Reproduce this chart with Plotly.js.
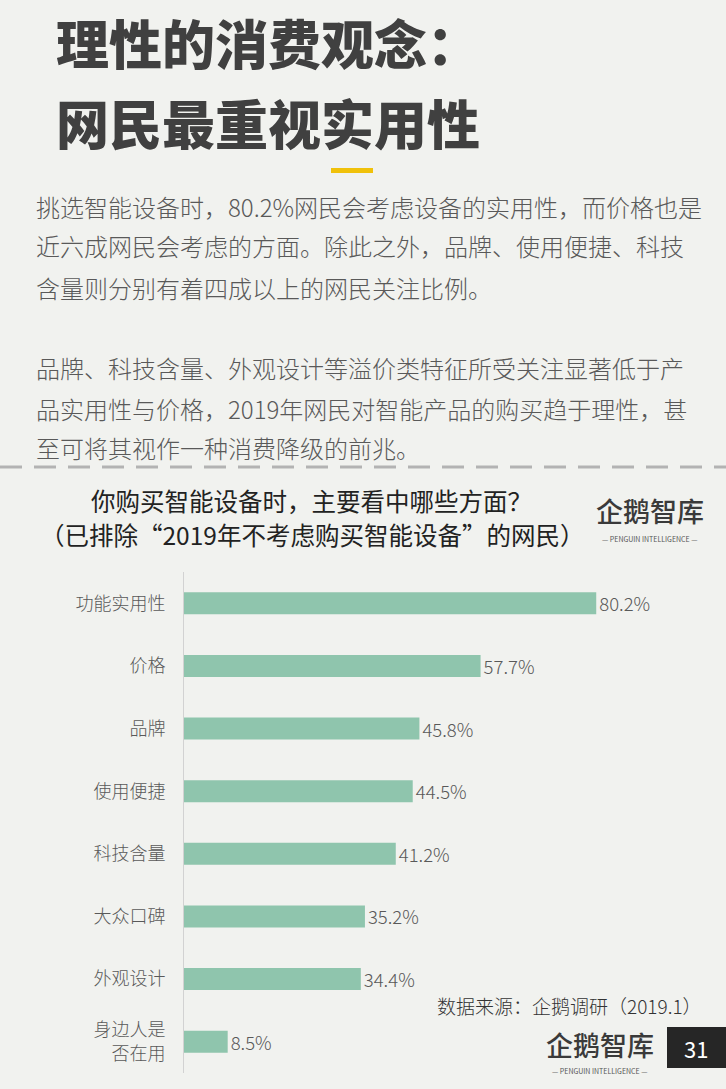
<!DOCTYPE html>
<html>
<head>
<meta charset="utf-8">
<script src="https://cdn.plot.ly/plotly-3.0.1.min.js"></script>
<style>
  html, body { margin: 0; padding: 0; background: #f1f2ef; }
  #plotDiv { width: 726px; height: 1089px; }
</style>
</head>
<body>
<div id="plotDiv"></div>
<script>
"use strict";

// Chart data
const categories = ['功能实用性', '价格', '品牌', '使用便捷', '科技含量', '大众口碑', '外观设计', '身边人是<br>否在用'];
const shares = [80.2, 57.7, 45.8, 44.5, 41.2, 35.2, 34.4, 8.5];

// Page texts
const headLines = ['理性的消费观念：', '网民最重视实用性'];
const bodyLines = [
    '挑选智能设备时，80.2%网民会考虑设备的实用性，而价格也是',
    '近六成网民会考虑的方面。除此之外，品牌、使用便捷、科技',
    '含量则分别有着四成以上的网民关注比例。',
    '品牌、科技含量、外观设计等溢价类特征所受关注显著低于产',
    '品实用性与价格，2019年网民对智能产品的购买趋于理性，甚',
    '至可将其视作一种消费降级的前兆。'
];
const chartTitle = ['你购买智能设备时，主要看中哪些方面？', '（已排除“2019年不考虑购买智能设备”的网民）'];
const sourceText = '数据来源：企鹅调研（2019.1）';
const pageNo = '31';

const FONT = '"Noto Sans CJK SC", "Noto Sans", sans-serif';
const W = 726, H = 1089;
const ML = 184, MR = 28, MT = 572, MB = 16;
const plotW = W - ML - MR, plotH = H - MT - MB;

// pixel -> paper coordinates
const ax = px => (px - ML) / plotW;
const ay = py => (H - MB - py) / plotH;

function note(text, x, y, size, opts = {}) {
    return Object.assign({
        text: text, xref: 'paper', yref: 'paper', x: ax(x), y: ay(y),
        xanchor: 'left', yanchor: 'middle', showarrow: false, borderpad: 0,
        font: { family: FONT, size: size, color: opts.color || '#595959', weight: opts.weight || 300 }
    }, opts.extra || {});
}

const annotations = [];
annotations.push(note(headLines[0], 55, 42, 53, { color: '#404040', weight: 900 }));
annotations.push(note(headLines[1], 55, 122, 53, { color: '#404040', weight: 900 }));

const bodyY = [206, 246, 287, 368, 408, 448];
bodyLines.forEach((t, i) => annotations.push(note(t, 35, bodyY[i], 24)));

// chart title, two lines
annotations.push(note(chartTitle[0], 311, 500, 24.5, { color: '#222222', weight: 400, extra: { xanchor: 'center' } }));
annotations.push(note(chartTitle[1], 312, 534, 24.5, { color: '#222222', weight: 400, extra: { xanchor: 'center' } }));

// logos (text only)
annotations.push(note('企鹅智库', 650, 511, 27, { color: '#3a3a3a', weight: 500, extra: { xanchor: 'center' } }));
annotations.push(note('— PENGUIN INTELLIGENCE —', 650, 539, 7, { color: '#555555', weight: 400, extra: { xanchor: 'center' } }));
annotations.push(note('企鹅智库', 600, 1044, 27, { color: '#3a3a3a', weight: 500, extra: { xanchor: 'center' } }));
annotations.push(note('— PENGUIN INTELLIGENCE —', 600, 1071, 7, { color: '#555555', weight: 400, extra: { xanchor: 'center' } }));

annotations.push(note(sourceText, 436, 1005, 19, { color: '#333333', weight: 300 }));
annotations.push(note(pageNo, 696, 1048, 22, { color: '#ffffff', weight: 400, extra: { xanchor: 'center' } }));

const shapes = [
    { type: 'rect', xref: 'paper', yref: 'paper', x0: ax(331), x1: ax(373), y0: ay(168), y1: ay(173),
      fillcolor: '#f0c10a', line: { width: 0 } },
    { type: 'line', xref: 'paper', yref: 'paper', x0: ax(0), x1: ax(726), y0: ay(467), y1: ay(467),
      line: { color: '#b3b3b3', width: 3, dash: '22px,12px' } },
    { type: 'rect', xref: 'paper', yref: 'paper', x0: ax(667), x1: ax(726), y0: ay(1027), y1: ay(1068),
      fillcolor: '#262626', line: { width: 0 } }
];

const trace = {
    type: 'bar',
    orientation: 'h',
    y: categories,
    x: shares,
    width: 0.35,
    marker: { color: '#8fc5ad' },
    texttemplate: '%{x:.1f}%',
    textposition: 'outside',
    constraintext: 'none',
    cliponaxis: false,
    textfont: { family: FONT, size: 18.5, color: '#595959', weight: 300 },
    hoverinfo: 'skip'
};

const layout = {
    width: W, height: H,
    margin: { l: ML, r: MR, t: MT, b: MB },
    paper_bgcolor: '#f1f2ef',
    plot_bgcolor: '#f1f2ef',
    showlegend: false,
    xaxis: { range: [0, 100], visible: false, fixedrange: true },
    yaxis: {
        autorange: 'reversed',
        showline: true, linecolor: '#d2d2d2', linewidth: 1,
        showgrid: false, zeroline: false,
        ticks: 'outside', ticklen: 14, tickcolor: 'rgba(0,0,0,0)',
        tickfont: { family: FONT, size: 18, color: '#595959', weight: 300 },
        fixedrange: true
    },
    annotations: annotations,
    shapes: shapes
};

Plotly.newPlot('plotDiv', [trace], layout, { displayModeBar: false, staticPlot: true });
</script>
</body>
</html>
